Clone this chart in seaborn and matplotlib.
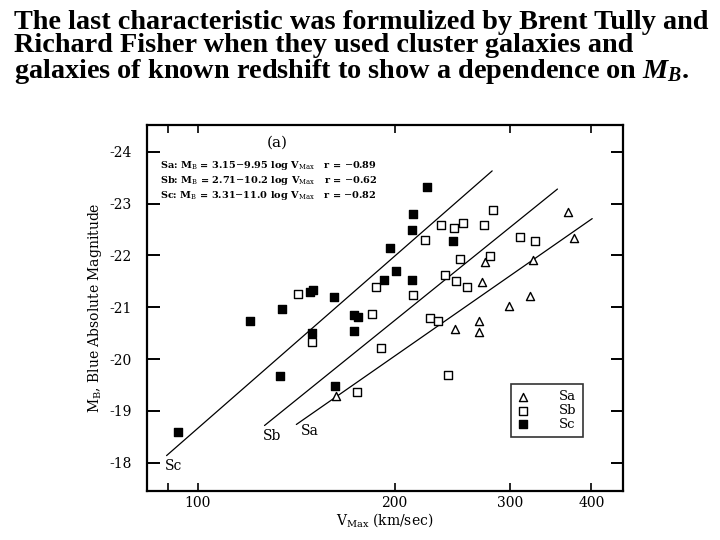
import numpy as np
import pandas as pd
import seaborn as sns
import matplotlib
matplotlib.use("Agg")
import matplotlib.pyplot as plt

# values
sa_v = [162.8, 247.8, 269.2, 269.2, 272.3, 274.7, 299.2, 322.7, 325.1, 368.7, 375.6]
sa_m = [-19.28, -20.59, -20.74, -20.52, -21.48, -21.87, -21.02, -21.21, -21.91, -22.84, -22.34]

sb_v = [142.5, 149.5, 175.4, 184.7, 187.5, 190.5, 213.4, 222.4, 226.4, 233.0, 235.4, 238.6,
        241.1, 246.3, 248.2, 251.9, 254.4, 258.4, 273.6, 279.9, 282.4, 310.7, 328.4]
sb_m = [-21.26, -20.33, -19.36, -20.87, -21.39, -20.21, -21.24, -22.29, -20.80, -20.73, -22.58, -21.62,
        -19.70, -22.53, -21.50, -21.94, -22.63, -21.39, -22.58, -21.99, -22.87, -22.36, -22.27]

sc_v = [93.3, 120.4, 134.7, 133.5, 148.4, 149.9, 149.5, 161.5, 173.6, 175.6, 173.6, 162.4,
        192.7, 196.7, 201.2, 212.3, 212.3, 213.6, 224.4, 245.6]
sc_m = [-18.59, -20.73, -20.96, -19.68, -21.30, -21.34, -20.51, -21.20, -20.85, -20.81, -20.54, -19.49,
        -21.53, -22.15, -21.69, -21.53, -22.49, -22.79, -23.31, -22.28]

# fitted lines (end points as drawn)
fit_names = ["Sc", "Sb", "Sa"]
fit_v = [[89.6, 282.0], [126.5, 354.9], [141.5, 401.1]]
fit_m = [[-18.14, -23.63], [-18.72, -23.28], [-18.74, -22.71]]
fit_label_v = [91.8, 129.9, 148.6]
fit_label_m = [-17.94, -18.51, -18.62]

equations = [r"Sa: M$_{\rm B}$ = 3.15$-$9.95 log V$_{\rm Max}$   r = $-$0.89",
             r"Sb: M$_{\rm B}$ = 2.71$-$10.2 log V$_{\rm Max}$   r = $-$0.62",
             r"Sc: M$_{\rm B}$ = 3.31$-$11.0 log V$_{\rm Max}$   r = $-$0.82"]

x_ticks = [90, 100, 200, 300, 400]
x_labels = ["", "100", "200", "300", "400"]
y_ticks = [-24, -23, -22, -21, -20, -19, -18]
y_labels = ["-24", "-23", "-22", "-21", "-20", "-19", "-18"]

title = ("The last characteristic was formulized by Brent Tully and\n"
         "Richard Fisher when they used cluster galaxies and\n"
         "galaxies of known redshift to show a dependence on $M_B$.")

sns.set_style("ticks")
plt.rcParams["font.family"] = ["DejaVu Serif"]
plt.rcParams["mathtext.fontset"] = "custom"
plt.rcParams["mathtext.rm"] = "DejaVu Serif"
plt.rcParams["mathtext.it"] = "Liberation Serif:italic:bold"
plt.rcParams["mathtext.bf"] = "DejaVu Serif:bold"
for key in ["text.color", "axes.labelcolor", "xtick.color", "ytick.color", "axes.edgecolor"]:
    plt.rcParams[key] = "black"

fig = plt.figure(figsize=(7.2, 5.4), dpi=100)
ax = fig.add_axes([0.204, 0.091, 0.661, 0.678])

df = pd.concat([
    pd.DataFrame({"V": sa_v, "M": sa_m, "type": "Sa"}),
    pd.DataFrame({"V": sb_v, "M": sb_m, "type": "Sb"}),
    pd.DataFrame({"V": sc_v, "M": sc_m, "type": "Sc"}),
])

sns.scatterplot(data=df[df.type == "Sa"], x="V", y="M", marker="^", s=34,
                color="white", edgecolor="black", linewidth=1.0, label="Sa", ax=ax, zorder=3)
sns.scatterplot(data=df[df.type == "Sb"], x="V", y="M", marker="s", s=28,
                color="white", edgecolor="black", linewidth=1.0, label="Sb", ax=ax, zorder=3)
sns.scatterplot(data=df[df.type == "Sc"], x="V", y="M", marker="s", s=28,
                color="black", edgecolor="black", linewidth=1.0, label="Sc", ax=ax, zorder=3)

for name, v, m, lv, lm in zip(fit_names, fit_v, fit_m, fit_label_v, fit_label_m):
    sns.lineplot(x=v, y=m, color="black", linewidth=0.9, ax=ax)
    ax.text(lv, lm, name, fontsize=10, ha="center", va="center")

ax.set_xscale("log")
ax.set_xlim(83.6, 446.7)
ax.set_ylim(-17.46, -24.52)
ax.set_xticks(x_ticks)
ax.set_xticklabels(x_labels)
ax.xaxis.set_minor_locator(matplotlib.ticker.NullLocator())
ax.set_yticks(y_ticks)
ax.set_yticklabels(y_labels)
ax.tick_params(axis="x", direction="in", length=6, width=1.2, top=True, pad=4, labelsize=10)
ax.tick_params(axis="y", direction="in", length=9, width=1.4, right=True, pad=11, labelsize=10)
for sp in ax.spines.values():
    sp.set_visible(True)
    sp.set_linewidth(1.6)

ax.set_xlabel(r"V$_{\rm Max}$ (km/sec)", fontsize=10, labelpad=1)
ax.set_ylabel(r"M$_{\rm B}$, Blue Absolute Magnitude", fontsize=10, labelpad=4)

ax.text(132.2, -24.18, "(a)", fontsize=11, ha="center", va="center")
for i, eq in enumerate(equations):
    ax.text(0.028, 0.89 - i * 0.041, eq, transform=ax.transAxes, fontsize=7,
            fontweight="bold", ha="left", va="center")

leg = ax.legend(loc="lower left", bbox_to_anchor=(0.765, 0.148), fontsize=9.5,
                frameon=True, fancybox=False, handletextpad=2.2, labelspacing=0.05,
                borderpad=0.45, handlelength=1.0, borderaxespad=0)
leg.get_frame().set_edgecolor("black")
leg.get_frame().set_linewidth(1.2)

fig.text(0.019, 0.982, title, fontsize=20.3, fontweight="bold", family="Liberation Serif",
         ha="left", va="top", linespacing=0.93)

fig.savefig("out.png", dpi=100)
